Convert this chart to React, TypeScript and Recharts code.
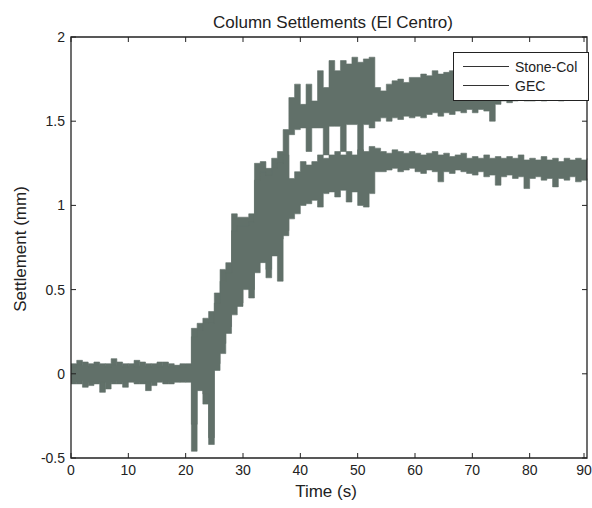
import React from 'react';
import {
  ComposedChart,
  Area,
  XAxis,
  YAxis,
  Legend,
  ReferenceArea,
} from 'recharts';

const time = [
  0, 1, 2, 3, 4, 5, 6, 7, 8, 9,
  10, 11, 12, 13, 14, 15, 16, 17, 18, 19,
  20, 21, 22, 23, 24, 25, 26, 27, 28, 29,
  30, 31, 32, 33, 34, 35, 36, 37, 38, 39,
  40, 41, 42, 43, 44, 45, 46, 47, 48, 49,
  50, 51, 52, 53, 54, 55, 56, 57, 58, 59,
  60, 61, 62, 63, 64, 65, 66, 67, 68, 69,
  70, 71, 72, 73, 74, 75, 76, 77, 78, 79,
  80, 81, 82, 83, 84, 85, 86, 87, 88, 89, 90,
];

// envelope (min / max) of each noisy record, read per second
const stoneLo = [
  -0.05, -0.06, -0.04, -0.07, -0.05, -0.11, -0.05, -0.06, -0.04, -0.08,
  -0.05, -0.04, -0.06, -0.1, -0.05, -0.04, -0.06, -0.05, -0.04, -0.05,
  -0.04, -0.46, -0.08, -0.18, -0.38, 0.06, 0.18, 0.28, 0.4, 0.42,
  0.55, 0.5, 0.66, 0.72, 0.62, 0.76, 0.8, 0.85, 1.42, 1.45,
  1.46, 1.32, 1.46, 1.46, 1.3, 1.47, 1.47, 1.32, 1.48, 1.48,
  1.26, 1.48, 1.46, 1.5, 1.52, 1.5, 1.52, 1.51, 1.53, 1.52,
  1.53, 1.52, 1.54, 1.55, 1.53, 1.55, 1.54, 1.56, 1.55, 1.57,
  1.55, 1.57, 1.56, 1.5, 1.6, 1.62, 1.61, 1.62, 1.63, 1.62,
  1.62, 1.63, 1.62, 1.64, 1.63, 1.62, 1.64, 1.63, 1.64, 1.63, 1.64,
];
const stoneHi = [
  0.06, 0.08, 0.05, 0.06, 0.07, 0.05, 0.06, 0.09, 0.05, 0.06,
  0.05, 0.08, 0.05, 0.06, 0.05, 0.07, 0.05, 0.06, 0.05, 0.06,
  0.06, 0.27, 0.3, 0.33, 0.37, 0.48, 0.62, 0.66, 0.95, 0.93,
  0.93, 0.95, 1.25, 1.26, 1.22, 1.28, 1.32, 1.45, 1.64, 1.72,
  1.6, 1.72, 1.62, 1.8, 1.7, 1.86, 1.8, 1.86, 1.84, 1.88,
  1.85, 1.87, 1.88, 1.7, 1.68, 1.72, 1.74, 1.75, 1.73, 1.76,
  1.76, 1.78, 1.77, 1.8, 1.78, 1.79, 1.8, 1.8, 1.81, 1.79,
  1.8, 1.81, 1.8, 1.82, 1.81, 1.82, 1.83, 1.82, 1.83, 1.82,
  1.83, 1.82, 1.84, 1.83, 1.82, 1.84, 1.83, 1.84, 1.83, 1.84, 1.83,
];
const gecLo = [
  -0.06, -0.04, -0.08, -0.05, -0.06, -0.05, -0.09, -0.04, -0.06, -0.05,
  -0.04, -0.06, -0.05, -0.05, -0.07, -0.05, -0.04, -0.06, -0.05, -0.04,
  -0.05, -0.3, -0.1, -0.12, -0.42, 0.02, 0.12, 0.24, 0.35, 0.4,
  0.5, 0.45, 0.6, 0.66, 0.57, 0.7, 0.55, 0.82, 0.92, 0.95,
  1.0, 1.01, 1.03, 0.99, 1.07, 1.08, 1.05, 1.09, 1.02, 1.08,
  1.0, 0.99, 1.07, 1.2, 1.2, 1.21, 1.22, 1.2, 1.21, 1.22,
  1.2, 1.19, 1.21, 1.2, 1.14, 1.2, 1.19, 1.21, 1.2, 1.19,
  1.18, 1.2, 1.17, 1.18, 1.12, 1.17, 1.18, 1.16, 1.17, 1.1,
  1.16, 1.17, 1.15, 1.16, 1.11, 1.16, 1.15, 1.17, 1.14, 1.15, 1.16,
];
const gecHi = [
  0.04, 0.05, 0.07, 0.04, 0.05, 0.06, 0.04, 0.05, 0.07, 0.04,
  0.06, 0.04, 0.07, 0.04, 0.06, 0.04, 0.07, 0.04, 0.05, 0.04,
  0.05, 0.22, 0.26, 0.3, 0.3, 0.42, 0.55, 0.6, 0.85, 0.88,
  0.88, 0.9, 1.15, 1.2, 1.18, 1.22, 1.25, 1.3, 1.16, 1.2,
  1.26, 1.24, 1.26, 1.3, 1.28, 1.3, 1.32, 1.3, 1.32, 1.3,
  1.33, 1.32, 1.35, 1.34, 1.32, 1.31, 1.33, 1.32, 1.31, 1.32,
  1.31, 1.3, 1.31, 1.32, 1.3, 1.31, 1.29, 1.3, 1.31, 1.28,
  1.29, 1.28, 1.3, 1.28, 1.29, 1.28, 1.29, 1.28, 1.3, 1.27,
  1.28, 1.27, 1.29, 1.27, 1.28, 1.26, 1.28, 1.27, 1.28, 1.27, 1.28,
];

const xTicks = [0, 10, 20, 30, 40, 50, 60, 70, 80, 90];
const yTicks = [-0.5, 0, 0.5, 1, 1.5, 2];
const seriesNames = ['Stone-Col', 'GEC'];

const data = time.map((t, i) => ({
  t,
  stone: [stoneLo[i], stoneHi[i]],
  gec: [gecLo[i], gecHi[i]],
}));

const font = '"Liberation Sans", Arial, sans-serif';
const ink = '#222';
const trace = '#617069';

// plot box in page pixels (follows from the chart margins and axis sizes)
const box = { left: 71, right: 587, top: 37, bottom: 458 };

// MATLAB style: ticks point inward, on all four sides
const XTick = (props: any) => {
  const { x, payload } = props;
  return (
    <g>
      <line x1={x} x2={x} y1={box.bottom} y2={box.bottom - 5} stroke={ink} />
      <line x1={x} x2={x} y1={box.top} y2={box.top + 5} stroke={ink} />
      <text x={x} y={box.bottom + 7} dy="0.71em" textAnchor="middle" fontSize={14} fontFamily={font} fill={ink}>
        {payload.value}
      </text>
    </g>
  );
};

const YTick = (props: any) => {
  const { y, payload } = props;
  return (
    <g>
      <line x1={box.left} x2={box.left + 5} y1={y} y2={y} stroke={ink} />
      <line x1={box.right} x2={box.right - 5} y1={y} y2={y} stroke={ink} />
      <text x={box.left - 6} y={y} dy="0.35em" textAnchor="end" fontSize={14} fontFamily={font} fill={ink}>
        {payload.value}
      </text>
    </g>
  );
};

const LegendBox = () => (
  <div
    style={{
      border: '1px solid #222',
      background: '#fff',
      width: 136,
      height: 49,
      fontFamily: font,
      fontSize: 14,
      color: ink,
      boxSizing: 'border-box',
      paddingTop: 4,
    }}
  >
    {seriesNames.map((n) => (
      <div key={n} style={{ display: 'flex', alignItems: 'center', height: 19 }}>
        <div style={{ width: 46, height: 0, borderTop: '1px solid #333', marginLeft: 9, marginRight: 6 }} />
        <span>{n}</span>
      </div>
    ))}
  </div>
);

const App = () => {
  return (
    <div style={{ position: 'absolute', left: 0, top: 0, width: 592, height: 508, background: '#fff' }}>
      <ComposedChart
        width={592}
        height={508}
        data={data}
        margin={{ top: 37, right: 5, bottom: 0, left: 0 }}
      >
        <XAxis
          dataKey="t"
          type="number"
          domain={[0, 90]}
          ticks={xTicks}
          height={50}
          tickLine={false}
          axisLine={false}
          tick={<XTick />}
          label={{
            content: () => (
              <g>
                <text x={333} y={28} textAnchor="middle" fontSize={17} fontFamily={font} fill={ink}>
                  Column Settlements (El Centro)
                </text>
                <text x={326} y={497} textAnchor="middle" fontSize={17} fontFamily={font} fill={ink}>
                  Time (s)
                </text>
              </g>
            ),
          }}
        />
        <YAxis
          type="number"
          domain={[-0.5, 2]}
          ticks={yTicks}
          width={71}
          tickLine={false}
          axisLine={false}
          tick={<YTick />}
          label={{
            content: () => (
              <text
                x={20}
                y={249}
                transform="rotate(-90 20 249)"
                textAnchor="middle"
                dominantBaseline="central"
                fontSize={17}
                fontFamily={font}
                fill={ink}
              >
                Settlement (mm)
              </text>
            ),
          }}
        />
        <Area
          type="stepAfter"
          dataKey="stone"
          name="Stone-Col"
          stroke={trace}
          strokeWidth={0.6}
          fill={trace}
          fillOpacity={1}
          isAnimationActive={false}
        />
        <Area
          type="stepAfter"
          dataKey="gec"
          name="GEC"
          stroke={trace}
          strokeWidth={0.6}
          fill={trace}
          fillOpacity={1}
          isAnimationActive={false}
        />
        <ReferenceArea
          x1={0}
          x2={90}
          y1={-0.5}
          y2={2}
          fill="none"
          stroke={ink}
          strokeWidth={1.3}
          ifOverflow="visible"
        />
        <Legend
          layout="vertical"
          align="center"
          verticalAlign="middle"
          wrapperStyle={{ left: 453, top: 52, width: 136, height: 49 }}
          content={() => <LegendBox />}
        />
      </ComposedChart>
    </div>
  );
};

export default App;
